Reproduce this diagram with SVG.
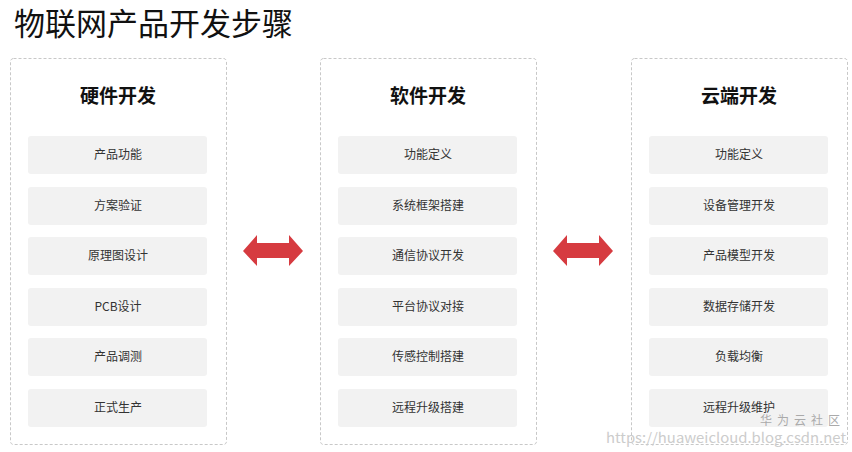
<svg xmlns="http://www.w3.org/2000/svg" width="852" height="452" viewBox="0 0 852 452">
<style>
text{font-family:"Noto Sans CJK SC","Liberation Sans",sans-serif}
.panel{fill:#fff;stroke:#c8c8c8;stroke-dasharray:3 2;stroke-width:1}
.item{fill:#f2f2f2}
.it{font-size:12px;fill:#333;text-anchor:middle}
.tt{font-size:19px;font-weight:bold;fill:#111;text-anchor:middle}
.arr{fill:#d63b40}
</style>
<rect width="852" height="452" fill="#fff"/>
<text x="14" y="35" font-size="31" fill="#111">物联网产品开发步骤</text>
<g id="hw">
<rect class="panel" x="10.5" y="58.5" width="216" height="386" rx="3"/>
<text class="tt" x="118" y="103">硬件开发</text>
<rect class="item" x="28" y="136" width="179" height="38" rx="3"/><text class="it" x="118" y="159">产品功能</text>
<rect class="item" x="28" y="187" width="179" height="38" rx="3"/><text class="it" x="118" y="210">方案验证</text>
<rect class="item" x="28" y="237" width="179" height="38" rx="3"/><text class="it" x="118" y="260">原理图设计</text>
<rect class="item" x="28" y="288" width="179" height="38" rx="3"/><text class="it" x="118" y="311">PCB设计</text>
<rect class="item" x="28" y="338" width="179" height="38" rx="3"/><text class="it" x="118" y="361">产品调测</text>
<rect class="item" x="28" y="389" width="179" height="38" rx="3"/><text class="it" x="118" y="412">正式生产</text>
</g>
<g id="sw">
<rect class="panel" x="320.5" y="58.5" width="216" height="386" rx="3"/>
<text class="tt" x="428" y="103">软件开发</text>
<rect class="item" x="338" y="136" width="179" height="38" rx="3"/><text class="it" x="428" y="159">功能定义</text>
<rect class="item" x="338" y="187" width="179" height="38" rx="3"/><text class="it" x="428" y="210">系统框架搭建</text>
<rect class="item" x="338" y="237" width="179" height="38" rx="3"/><text class="it" x="428" y="260">通信协议开发</text>
<rect class="item" x="338" y="288" width="179" height="38" rx="3"/><text class="it" x="428" y="311">平台协议对接</text>
<rect class="item" x="338" y="338" width="179" height="38" rx="3"/><text class="it" x="428" y="361">传感控制搭建</text>
<rect class="item" x="338" y="389" width="179" height="38" rx="3"/><text class="it" x="428" y="412">远程升级搭建</text>
</g>
<g id="cloud">
<rect class="panel" x="631.5" y="58.5" width="216" height="386" rx="3"/>
<text class="tt" x="739" y="103">云端开发</text>
<rect class="item" x="649" y="136" width="179" height="38" rx="3"/><text class="it" x="739" y="159">功能定义</text>
<rect class="item" x="649" y="187" width="179" height="38" rx="3"/><text class="it" x="739" y="210">设备管理开发</text>
<rect class="item" x="649" y="237" width="179" height="38" rx="3"/><text class="it" x="739" y="260">产品模型开发</text>
<rect class="item" x="649" y="288" width="179" height="38" rx="3"/><text class="it" x="739" y="311">数据存储开发</text>
<rect class="item" x="649" y="338" width="179" height="38" rx="3"/><text class="it" x="739" y="361">负载均衡</text>
<rect class="item" x="649" y="389" width="179" height="38" rx="3"/><text class="it" x="739" y="412">远程升级维护</text>
</g>
<g id="connectors">
<polygon class="arr" points="243,251 257,235 257,243 289,243 289,235 303,251 289,266 289,258 257,258 257,266"/>
<polygon class="arr" points="553,251 567,235 567,243 599,243 599,235 613,251 599,266 599,258 567,258 567,266"/>
</g>
<text x="760" y="425" font-size="12" fill="#aaa" letter-spacing="5">华为云社区</text>
<text x="606" y="443" font-size="14" fill="#ccc" textLength="240" lengthAdjust="spacingAndGlyphs">https://huaweicloud.blog.csdn.net</text>
</svg>
